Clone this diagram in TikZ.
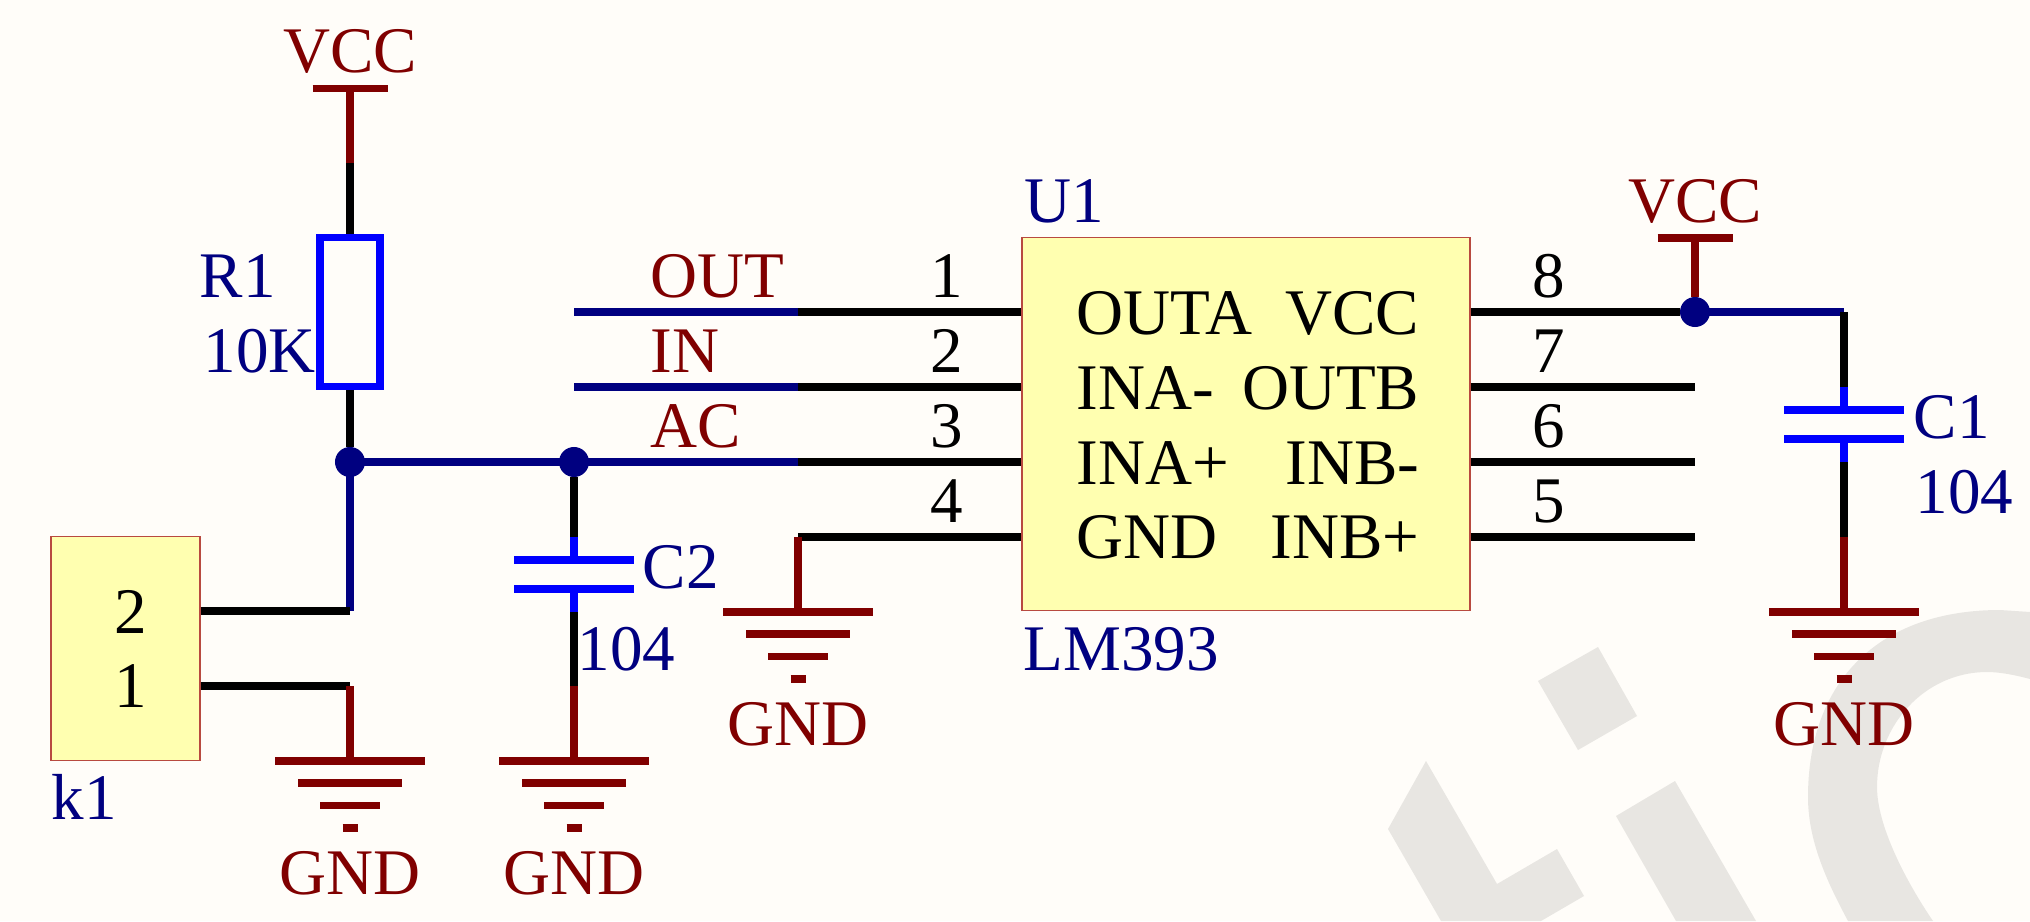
\documentclass[tikz,border=0pt]{standalone}
\usepackage{fontspec}
\setmainfont{Liberation Serif}
\definecolor{sheetbg}{HTML}{FFFDF9}
\definecolor{markgray}{HTML}{E8E6E2}
\definecolor{netred}{HTML}{800000}
\definecolor{refblue}{HTML}{000080}
\definecolor{partblue}{HTML}{0000FF}
\definecolor{chipfill}{HTML}{FFFFB0}
\definecolor{chipline}{HTML}{B84A40}
\tikzset{
    wire/.style={line width=2.15pt},
    lbl/.style={anchor=base,inner sep=0,font=\fontsize{18.5}{20}\selectfont},
    chip/.style={draw=chipline,fill=chipfill,line width=0.45pt,inner sep=0},
    dot/.style={circle,fill=refblue,inner sep=0,outer sep=0,minimum size=0.3cm},
}
\newcommand\GndMark[3]{%
    \coordinate (#1) at (#2,#3);
    \draw[wire,netred] (#1) +(-75,0) -- +(75,0) +(-52,22) -- +(52,22) +(-30,44.5) -- +(30,44.5) +(-7.5,67) -- +(7.5,67);
    \node[lbl,netred] (#1t) at (#2,#3+133) {GND};
}
\newcommand\VccMark[3]{%
    \coordinate (#1) at (#2,#3);
    \draw[wire,netred] (#1) +(-37.5,0) -- +(37.5,0);
    \node[lbl,netred] (#1t) at (#2,#3-16) {VCC};
}
\newcommand\CapMark[3]{%
    \coordinate (#1a) at (#2,#3);
    \coordinate (#1b) at (#2,#3+75);
    \draw[wire,partblue] (#1a) -- +(0,23) (#1b) -- +(0,-23);
    \draw[wire,partblue] (#1a) +(-60,23) -- +(60,23) +(-60,52) -- +(60,52);
}
\begin{document}
\begin{tikzpicture}[x=0.01cm,y=-0.01cm]
    \useasboundingbox (0,0) rectangle (2030,921);
    \fill[sheetbg] (0,0) rectangle (2030,921);
    \begin{scope}[markgray] % watermark
        \fill (1598,647) -- (1637,716) -- (1578,750) -- (1538,681) -- cycle;
        \fill (1675,781) -- (1756,921) -- (1676,921) -- (1616,816) -- cycle;
        \fill (1426,761) -- (1497,884) -- (1557,849) -- (1584,896) -- (1541,921) -- (1441,921) -- (1388,829) -- cycle;
        \fill (1848,921) .. controls (1826,880) and (1808,840) .. (1808,797)
            .. controls (1808,680) and (1880,610) .. (2000,610) -- (2030,612) -- (2030,679)
            .. controls (2015,675) and (2000,672) .. (1987,672)
            .. controls (1925,672) and (1877,725) .. (1877,787)
            .. controls (1877,825) and (1905,880) .. (1933,921) -- cycle;
    \end{scope}

    % parts
    \node[draw=partblue,line width=2.15pt,inner sep=0,minimum width=0.595cm,minimum height=1.485cm] (R1) at (350,312) {};
    \node[chip,minimum width=1.485cm,minimum height=2.235cm] (k1) at (125.5,648.5) {};
    \node[chip,minimum width=4.48cm,minimum height=3.73cm] (U1) at (1246,424) {};

    \VccMark{vccA}{350}{88.7}
    \VccMark{vccB}{1695}{238}
    \GndMark{gndA}{350}{761}
    \GndMark{gndB}{574}{761}
    \GndMark{gndC}{798}{612}
    \GndMark{gndD}{1844}{612}
    \CapMark{C2}{574}{537}
    \CapMark{C1}{1844}{387}

    % left side
    \node[dot] (jA) at (350,462) {};
    \node[dot] (jB) at (574,462) {};
    \node[dot] (jC) at (1695,312) {};
    \coordinate (vccAm) at (350,163);
    \coordinate (kTwo) at (k1.east |- 0,611);
    \coordinate (kOne) at (k1.east |- 0,686);
    \coordinate (kTwoEnd) at (350,611);
    \coordinate (kOneEnd) at (350,686);
    \coordinate (C2low) at (574,686);
    \draw[wire,netred] (vccA) -- (vccAm);
    \draw[wire] (vccAm) -- (R1.north);
    \draw[wire] (R1.south) -- (jA.north);
    \draw[wire,refblue] (jA.center) -- (kTwoEnd);
    \draw[wire] (kTwo) -- (kTwoEnd);
    \draw[wire] (kOne) -- (kOneEnd);
    \draw[wire,netred] (kOneEnd) -- (gndA);
    \draw[wire] (jB.south) -- (C2a);
    \draw[wire] (C2b) -- (C2low);
    \draw[wire,netred] (C2low) -- (gndB);

    % chip pins
    \foreach \n/\y/\t in {1/312/OUT,2/387/IN,3/462/AC} {
        \coordinate (net\n) at (798,\y);
        \coordinate (pin\n) at (U1.west |- 0,\y);
        \draw[wire] (net\n) -- (pin\n);
        \node[lbl,anchor=base west,netred] (lab\n) at (650,\y-15) {\t};
    }
    \coordinate (netStart1) at (574,312);
    \coordinate (netStart2) at (574,387);
    \draw[wire,refblue] (netStart1) -- (net1);
    \draw[wire,refblue] (netStart2) -- (net2);
    \draw[wire,refblue] (jA.center) -- (jB.center) -- (net3);
    \coordinate (net4) at (798,537);
    \coordinate (pin4) at (U1.west |- 0,537);
    \draw[wire] (net4) -- (pin4);
    \draw[wire,netred] (net4) -- (gndC);
    \foreach \n/\y in {7/387,6/462,5/537} {
        \coordinate (pin\n) at (U1.east |- 0,\y);
        \coordinate (open\n) at (1695,\y);
        \draw[wire] (pin\n) -- (open\n);
    }
    \coordinate (pin8) at (U1.east |- 0,312);
    \coordinate (C1top) at (1844,312);
    \coordinate (C1low) at (1844,537);
    \draw[wire] (pin8) -- (jC.west);
    \draw[wire,netred] (vccB) -- (jC.north);
    \draw[wire,refblue] (jC.center) -- (C1top);
    \draw[wire] (C1top) -- (C1a);
    \draw[wire] (C1b) -- (C1low);
    \draw[wire,netred] (C1low) -- (gndD);

    % pin numbers
    \foreach \n/\x/\y in {1/947/297,2/947/372,3/947/447,4/947/522,8/1549/297,7/1549/372,6/1549/447,5/1549/522,2/131/633,1/131/707} {
        \node[lbl] (num\n at \x) at (\x,\y) {\n};
    }

    % chip text
    \foreach \y/\a/\b in {334/OUTA/VCC,409/INA-/OUTB,484/INA+/INB-,558/GND/INB+} {
        \node[lbl,anchor=base west] (pl\y) at (1076,\y) {\a};
        \node[lbl,anchor=base east] (pr\y) at (1420,\y) {\b};
    }

    % designators
    \begin{scope}[refblue]
        \node[lbl,anchor=base west] (tR1) at (199,297) {R1};
        \node[lbl,anchor=base west] (vR1) at (203,372) {10K};
        \node[lbl,anchor=base west] (tU1) at (1024,222) {U1};
        \node[lbl,anchor=base west] (vU1) at (1023,670) {LM393};
        \node[lbl,anchor=base west] (tC1) at (1913,438) {C1};
        \node[lbl,anchor=base west] (vC1) at (1915,513) {104};
        \node[lbl,anchor=base west] (tC2) at (642,588) {C2};
        \node[lbl,anchor=base west] (vC2) at (577,670) {104};
        \node[lbl,anchor=base west] (tk1) at (51,819) {k1};
    \end{scope}
\end{tikzpicture}
\end{document}
